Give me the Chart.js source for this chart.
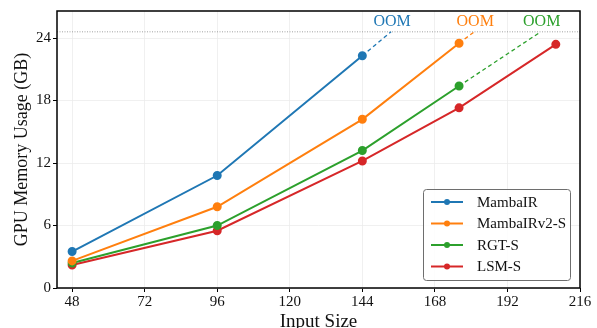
<!DOCTYPE html>
<html>
<head>
<meta charset="utf-8">
<script src="https://cdn.jsdelivr.net/npm/chart.js@4/dist/chart.umd.min.js"></script>
<style>
  html, body { margin: 0; padding: 0; background: #fff; }
  #wrap { width: 597px; height: 328px; }
</style>
</head>
<body>
<div id="wrap"><canvas id="memChart" width="597" height="328"></canvas></div>
<script>
// input sizes (x) and memory usage in GB per model
const inputSizes = [48, 96, 144, 176, 208];
const mambaIR = [3.5, 10.8, 22.3];
const mambaIRv2 = [2.6, 7.8, 16.2, 23.5];
const rgtS = [2.4, 6.0, 13.2, 19.4];
const lsmS = [2.2, 5.5, 12.2, 17.3, 23.4];

// GPU limit line and where the dashed extensions hit it
const oomLimit = 24.6;
const oomX = [153.5, 181, 203];

const xTicks = [48, 72, 96, 120, 144, 168, 192, 216];
const yTicks = [0, 6, 12, 18, 24];

const serif = "'Liberation Serif', 'DejaVu Serif', serif";
const colors = ['#1f77b4', '#ff7f0e', '#2ca02c', '#d62728'];

const toPoints = (vals) => vals.map((v, i) => ({ x: inputSizes[i], y: v }));

const solid = (label, vals, color) => ({
  label: label,
  data: toPoints(vals),
  borderColor: color,
  backgroundColor: color,
  borderWidth: 2,
  pointRadius: 3.5,
  pointHoverRadius: 3.5,
  tension: 0
});

const dashed = (vals, endX, color) => {
  const last = vals.length - 1;
  return {
    label: '_ext',
    data: [{ x: inputSizes[last], y: vals[last] }, { x: endX, y: oomLimit }],
    borderColor: color,
    borderWidth: 1.3,
    borderDash: [4, 3],
    pointRadius: 0,
    tension: 0
  };
};

const series = [
  { label: 'MambaIR', vals: mambaIR },
  { label: 'MambaIRv2-S', vals: mambaIRv2 },
  { label: 'RGT-S', vals: rgtS },
  { label: 'LSM-S', vals: lsmS }
];

const datasets = [];
series.forEach((s, i) => datasets.push(solid(s.label, s.vals, colors[i])));
oomX.forEach((x, i) => datasets.push(dashed(series[i].vals, x, colors[i])));

// dotted limit line + OOM texts
const oomPlugin = {
  id: 'oom',
  beforeDatasetsDraw(chart) {
    const { ctx, chartArea, scales } = chart;
    const y = scales.y.getPixelForValue(oomLimit);
    ctx.save();
    ctx.strokeStyle = '#8a8a8a';
    ctx.lineWidth = 0.8;
    ctx.setLineDash([1, 1.5]);
    ctx.beginPath();
    ctx.moveTo(chartArea.left, y);
    ctx.lineTo(chartArea.right, y);
    ctx.stroke();
    ctx.setLineDash([]);
    ctx.font = '16px ' + serif;
    ctx.textAlign = 'center';
    ctx.textBaseline = 'bottom';
    oomX.forEach((x, i) => {
      ctx.fillStyle = colors[i];
      ctx.fillText('OOM', scales.x.getPixelForValue(x) + 1, y - 2);
    });
    ctx.restore();
  }
};

// legend box inside the plot, lower right
const legendPlugin = {
  id: 'boxLegend',
  afterDraw(chart) {
    const { ctx, chartArea } = chart;
    const bx = chartArea.right - 157, by = chartArea.bottom - 99, bw = 147, bh = 91;
    ctx.save();
    ctx.fillStyle = 'rgba(255,255,255,0.85)';
    ctx.strokeStyle = '#6e6e6e';
    ctx.lineWidth = 1;
    ctx.beginPath();
    ctx.roundRect(bx + 0.5, by + 0.5, bw, bh, 3);
    ctx.fill();
    ctx.stroke();
    ctx.font = '15px ' + serif;
    ctx.textBaseline = 'middle';
    series.forEach((s, i) => {
      const y = by + 13 + i * 21.5;
      ctx.strokeStyle = colors[i];
      ctx.fillStyle = colors[i];
      ctx.lineWidth = 2;
      ctx.beginPath();
      ctx.moveTo(bx + 8, y);
      ctx.lineTo(bx + 40, y);
      ctx.stroke();
      ctx.beginPath();
      ctx.arc(bx + 24, y, 3, 0, Math.PI * 2);
      ctx.fill();
      ctx.fillStyle = '#111';
      ctx.fillText(s.label, bx + 54, y + 1);
    });
    ctx.restore();
  }
};

// black frame around the plot
const framePlugin = {
  id: 'frame',
  afterDatasetsDraw(chart) {
    const { ctx, chartArea } = chart;
    ctx.save();
    ctx.strokeStyle = '#000';
    ctx.lineWidth = 1.5;
    ctx.strokeRect(chartArea.left, chartArea.top, chartArea.right - chartArea.left, chartArea.bottom - chartArea.top);
    ctx.restore();
  }
};

const ctx = document.getElementById('memChart').getContext('2d');
new Chart(ctx, {
  type: 'line',
  data: { datasets: datasets },
  options: {
    responsive: false,
    animation: false,
    layout: { padding: { top: 8, right: 17, left: 0, bottom: 0 } },
    plugins: {
      legend: { display: false },
      tooltip: { enabled: false }
    },
    scales: {
      x: {
        type: 'linear',
        min: 43,
        max: 216,
        afterBuildTicks: (scale) => { scale.ticks = xTicks.map(v => ({ value: v })); },
        afterFit: (scale) => { scale.height = 40; },
        grid: { color: '#ececec', lineWidth: 0.8, tickColor: '#000', tickLength: 4, tickWidth: 1 },
        border: { display: false },
        ticks: { color: '#111', font: { family: serif, size: 15 }, padding: 1, maxRotation: 0, autoSkip: false },
        title: { display: true, text: 'Input Size', color: '#111', font: { family: serif, size: 19 }, padding: { top: 0, bottom: -5 } }
      },
      y: {
        min: 0,
        max: 26.6,
        afterBuildTicks: (scale) => { scale.ticks = yTicks.map(v => ({ value: v })); },
        afterFit: (scale) => { scale.width = 57; },
        grid: { color: '#ececec', lineWidth: 0.8, tickColor: '#000', tickLength: 4, tickWidth: 1 },
        border: { display: false },
        ticks: { color: '#111', font: { family: serif, size: 15 }, padding: 2 },
        title: { display: true, text: 'GPU Memory Usage (GB)', color: '#111', font: { family: serif, size: 18 }, padding: { top: 11, bottom: 0 } }
      }
    }
  },
  plugins: [oomPlugin, framePlugin, legendPlugin]
});
</script>
</body>
</html>
